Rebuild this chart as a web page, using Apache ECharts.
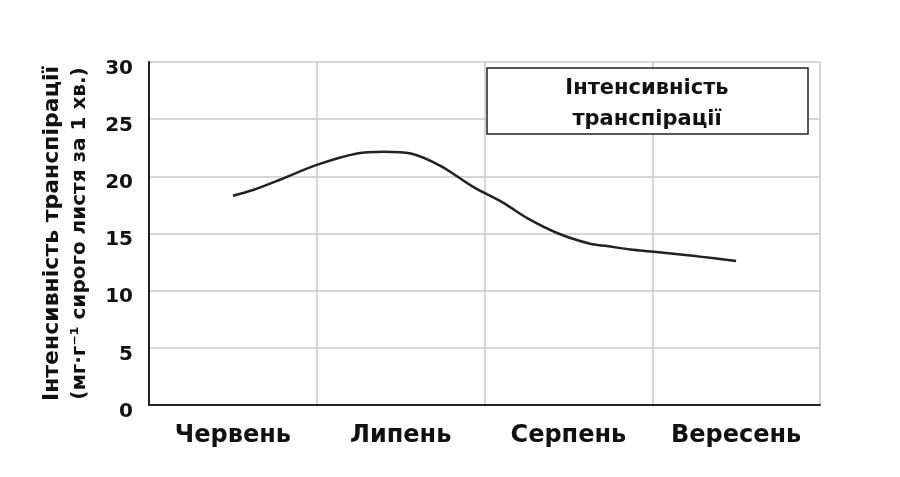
<!DOCTYPE html>
<html>
<head>
<meta charset="utf-8">
<script src="https://cdn.jsdelivr.net/npm/echarts@6/dist/echarts.min.js"></script>
<style>html,body{margin:0;padding:0;background:#fff}#c{width:900px;height:477px}</style>
</head>
<body>
<div id="c"></div>
<script>
const months = ['Червень', 'Липень', 'Серпень', 'Вересень'];
const yTicks = [0, 5, 10, 15, 20, 25, 30];
const seriesName = 'Інтенсивність\nтранспірації';
const axisNameLine1 = 'Інтенсивність транспірації';
const axisNameLine2 = '(мг·г⁻¹ сирого листя за 1 хв.)';
// position along the month axis (0..4, month centres at 0.5, 1.5, ...)
const monthPos = [0.5, 0.62, 0.78, 1.0, 1.24, 1.40, 1.56, 1.74, 1.93, 2.11, 2.26, 2.44, 2.63, 2.73, 2.87, 3.01, 3.27, 3.5];
const intensity = [18.3, 18.8, 19.7, 21.0, 22.0, 22.15, 22.0, 20.9, 19.1, 17.7, 16.3, 15.0, 14.1, 13.9, 13.6, 13.4, 13.0, 12.6];

const chart = echarts.init(document.getElementById('c'));
const grey = '#c8c8c8';
const font = 'DejaVu Sans';
chart.setOption({
  backgroundColor: '#fff',
  animation: false,
  grid: { left: 149, right: 80, top: 62, bottom: 72 },
  legend: {
    data: [seriesName],
    left: 487, top: 68,
    icon: 'none', itemWidth: 0, itemHeight: 0, itemGap: 0,
    borderColor: '#222', borderWidth: 1.5, backgroundColor: '#fff',
    padding: [10, 76, 4, 70],
    formatter: name => name.split('\n').map(l => '{t|' + l + '}').join('\n'),
    textStyle: {
      rich: { t: { fontFamily: font, fontWeight: 'bold', fontSize: 21, lineHeight: 31, color: '#111', width: 170, align: 'center' } }
    },
    selectedMode: false
  },
  xAxis: [
    {
      type: 'category', data: months, boundaryGap: true,
      axisLine: { show: true, lineStyle: { color: '#222', width: 2 } },
      axisTick: { show: false },
      splitLine: { show: true, interval: 0, lineStyle: { color: grey, width: 1.5 } },
      axisLabel: { interval: 0, hideOverlap: false, fontFamily: font, fontWeight: 'bold', fontSize: 24, color: '#111', margin: 19 }
    },
    { type: 'value', min: 0, max: 4, show: false }
  ],
  yAxis: {
    type: 'value', min: 0, max: 30, interval: 5,
    axisLine: { show: true, lineStyle: { color: '#222', width: 2 } },
    axisTick: { show: false },
    splitLine: { show: true, lineStyle: { color: grey, width: 1.5 } },
    axisLabel: { margin: 16, verticalAlign: 'top',
      formatter: v => yTicks.includes(v) ? '{v|' + v + '}' : '',
      rich: { v: { fontFamily: font, fontWeight: 'bold', fontSize: 20, lineHeight: 13, color: '#111' } } },
    name: '{a|' + axisNameLine1 + '}\n{b|' + axisNameLine2 + '}',
    nameLocation: 'middle', nameGap: 56, nameRotate: 90,
    nameTextStyle: {
      rich: {
        a: { fontFamily: font, fontWeight: 'bold', fontSize: 22, lineHeight: 27, color: '#111' },
        b: { fontFamily: font, fontWeight: 'bold', fontSize: 20, lineHeight: 27, color: '#111' }
      }
    }
  },
  series: [{
    name: seriesName, type: 'line', xAxisIndex: 1,
    data: monthPos.map((x, i) => [x, intensity[i]]),
    smooth: 0.3, showSymbol: false,
    lineStyle: { color: '#222', width: 2.5 }, itemStyle: { color: '#222' }
  }]
});
</script>
</body>
</html>
